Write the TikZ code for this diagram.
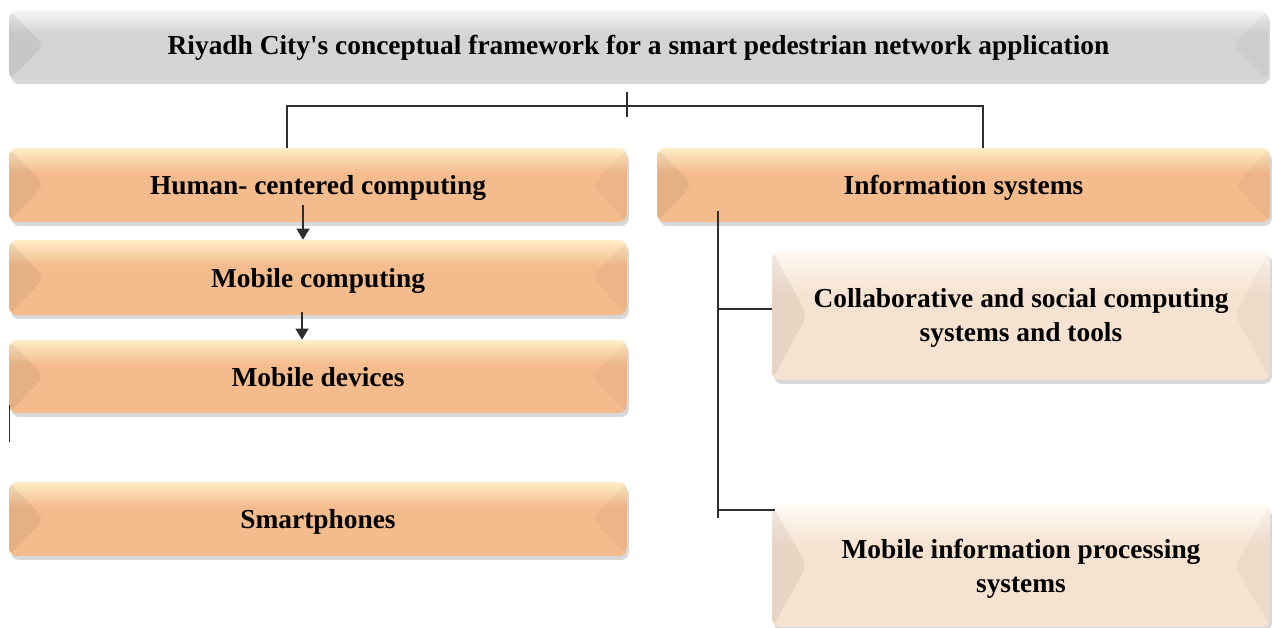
\documentclass[tikz,border=0pt]{standalone}
\usepackage{fontspec}
\setmainfont{Liberation Serif}
\usetikzlibrary{arrows.meta,shadows}

\definecolor{greytop}{HTML}{F6F6F6}
\definecolor{greymain}{HTML}{D4D4D4}
\definecolor{orangetop}{HTML}{FFEDC8}
\definecolor{orangemain}{HTML}{F4BB8C}
\definecolor{creamtop}{HTML}{FFFAF4}
\definecolor{creammain}{HTML}{F6E2D0}
\definecolor{linecol}{HTML}{2E2E2E}

\pgfdeclareverticalshading{greyshade}{100bp}{color(0bp)=(greymain); color(25bp)=(greymain); color(58bp)=(greymain); color(75bp)=(greytop); color(100bp)=(greytop)}
\pgfdeclareverticalshading{orangeshade}{100bp}{color(0bp)=(orangemain); color(25bp)=(orangemain); color(58bp)=(orangemain); color(75bp)=(orangetop); color(100bp)=(orangetop)}
\pgfdeclareverticalshading{creamshade}{100bp}{color(0bp)=(creammain); color(25bp)=(creammain); color(58bp)=(creammain); color(75bp)=(creamtop); color(100bp)=(creamtop)}

\tikzset{
  box/.style={rounded corners=0.16cm, inner sep=0pt, align=center, text depth=0pt,
    font=\fontsize{15.6}{19}\selectfont\bfseries,
    drop shadow={shadow xshift=0.04cm, shadow yshift=-0.08cm, opacity=0.22, fill=black!70},
    path picture={
      \fill[black, opacity=0.06] (path picture bounding box.north west)
        -- ([xshift=0.7cm]path picture bounding box.west)
        -- (path picture bounding box.south west) -- cycle;
      \fill[black, opacity=0.03] (path picture bounding box.north east)
        -- ([xshift=-0.7cm]path picture bounding box.east)
        -- (path picture bounding box.south east) -- cycle;
    }},
  greybox/.style={box, shading=greyshade},
  orangebox/.style={box, shading=orangeshade},
  creambox/.style={box, shading=creamshade},
  link/.style={draw=linecol, line width=0.8pt},
  arr/.style={link, -{Triangle[width=0.26cm,length=0.22cm]}}
}

\begin{document}
\begin{tikzpicture}[x=0.02cm, y=-0.02cm]
    \useasboundingbox (0,0) rectangle (1272,628);
    %% Draw the nodes
    \node[greybox, minimum width=25.18cm, minimum height=1.4cm] (top) at (638.5,45)
      {Riyadh City\textquotesingle s conceptual framework for a smart pedestrian network application};
    \node[orangebox, minimum width=12.36cm, minimum height=1.48cm] (hcc) at (318,185) {Human- centered computing};
    \node[orangebox, minimum width=12.36cm, minimum height=1.5cm] (mc) at (318,277.5) {Mobile computing};
    \node[orangebox, minimum width=12.36cm, minimum height=1.46cm] (md) at (318,376.5) {Mobile devices};
    \node[orangebox, minimum width=12.36cm, minimum height=1.48cm] (sp) at (318,519) {Smartphones};
    \node[orangebox, minimum width=12.26cm, minimum height=1.48cm] (is) at (963.5,185) {Information systems};
    \node[creambox, minimum width=9.96cm, minimum height=2.6cm] (csc) at (1021,315)
      {Collaborative and social computing\\systems and tools};
    \node[creambox, minimum width=9.96cm, minimum height=2.44cm] (mip) at (1021,566)
      {Mobile information processing\\systems};
    %% Draw the joints
    \coordinate (busL) at (287,106);
    \coordinate (busR) at (983,106);
    \coordinate (trunk) at (718,211);
    \coordinate (mipIn) at (775,510);
    %% Draw the edges
    \begin{scope}[every path/.style={link}]
      \draw (627,92) -- (627,117);
      \draw (hcc.north -| busL) |- (busR) -- (is.north -| busR);
      \draw (trunk) -- (718,518);
      \draw (trunk |- 0,309) -- (csc.west |- 0,309);
      \draw (trunk |- mipIn) -- (mipIn);
      \draw ([xshift=0.02cm,yshift=0.16cm]md.south west) -- ++(0,37);
    \end{scope}
    \draw[arr] ([xshift=-0.3cm,yshift=0.34cm]hcc.south) -- ([xshift=-0.3cm]mc.north);
    \draw[arr] ([xshift=-0.32cm,yshift=0.06cm]mc.south) -- ([xshift=-0.32cm]md.north);
  \end{tikzpicture}
\end{document}
